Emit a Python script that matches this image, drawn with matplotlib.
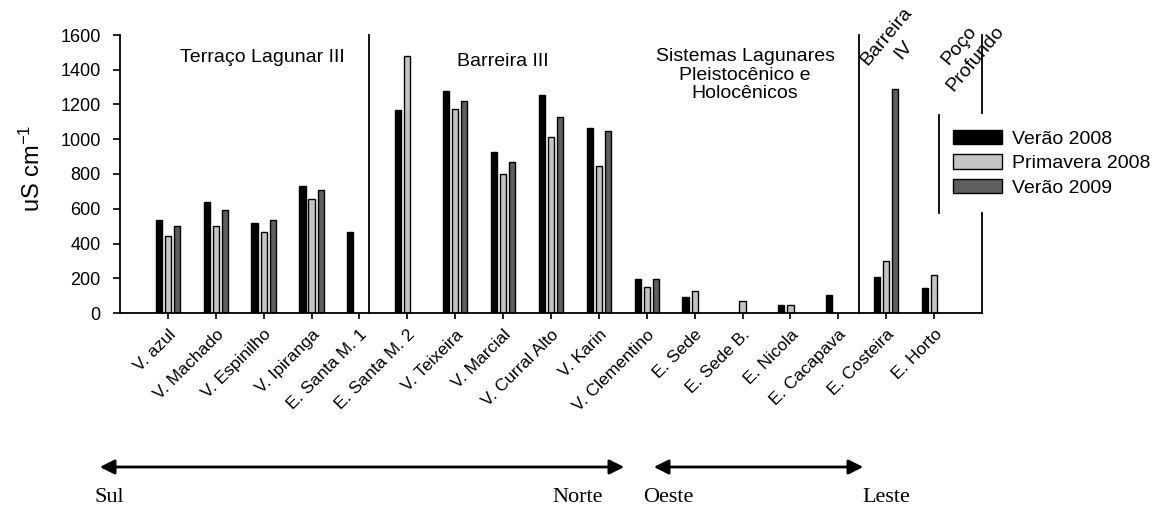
import matplotlib
matplotlib.use("Agg")
import matplotlib.pyplot as plt
import numpy as np

plt.rcParams["font.family"] = ["Liberation Sans", "DejaVu Sans"]
plt.rcParams["mathtext.default"] = "regular"

W, H = 1166, 509

sites = [
    "V. azul", "V. Machado", "V. Espinilho", "V. Ipiranga", "E. Santa M. 1",
    "E. Santa M. 2", "V. Teixeira", "V. Marcial", "V. Curral Alto", "V. Karin",
    "V. Clementino", "E. Sede", "E. Sede B.", "E. Nicola", "E. Cacapava",
    "E. Costeira", "E. Horto",
]
nan = np.nan
verao_2008 = [533, 638, 519, 729, 469, 1167, 1279, 927, 1254, 1067,
              196, 92, nan, 48, 106, 207, 144]
primavera_2008 = [446, 498, 465, 658, nan, 1479, 1173, 802, 1013, 846,
                  150, 129, 67, 44, nan, 302, 219]
verao_2009 = [500, 590, 533, 706, nan, nan, 1221, 869, 1129, 1046,
              196, nan, nan, nan, nan, 1292, nan]

series = [
    ("Verão 2008", verao_2008, "#000000"),
    ("Primavera 2008", primavera_2008, "#c4c4c4"),
    ("Verão 2009", verao_2009, "#5e5e5e"),
]

fig = plt.figure(figsize=(W / 100, H / 100), dpi=100)
ax = fig.add_axes([120 / W, 196 / H, 862 / W, 278 / H])

x = np.arange(len(sites))
width = 0.13
offsets = [-0.19, 0.0, 0.19]
for (label, vals, color), off in zip(series, offsets):
    ax.bar(x + off, vals, width, color=color, edgecolor="black", linewidth=1, label=label)

ax.set_xlim(-1, 17)
ax.set_ylim(0, 1600)
ax.set_yticks(np.arange(0, 1601, 200))
ax.set_xticks(x)
ax.set_xticklabels(sites, rotation=45, ha="right", va="top", rotation_mode="anchor")
ax.tick_params(axis="y", direction="out", length=5, width=1.2, pad=9, labelsize=13)
ax.tick_params(axis="x", direction="out", length=4, width=1.2, pad=6, labelsize=12.5)
for side in ["top", "right"]:
    ax.spines[side].set_visible(False)
for side in ["left", "bottom"]:
    ax.spines[side].set_linewidth(1.3)

# section separators
ax.plot([4.19, 4.19], [0, 1600], color="black", lw=1.3, clip_on=False)
ax.plot([14.43, 14.43], [0, 1600], color="black", lw=1.3, clip_on=False)
ax.plot([17, 17], [0, 575], color="black", lw=1.3, clip_on=False)
ax.plot([17, 17], [1151, 1600], color="black", lw=1.3, clip_on=False)
ax.plot([16.1, 16.1], [575, 1140], color="black", lw=1.3, clip_on=False)

# section labels
fig.text(262 / W, 1 - 57 / H, "Terraço Lagunar III", ha="center", va="center", fontsize=14)
fig.text(503 / W, 1 - 62 / H, "Barreira III", ha="center", va="center", fontsize=14)
fig.text(745 / W, 1 - 75 / H, "Sistemas Lagunares\nPleistocênico e\nHolocênicos",
         ha="center", va="center", fontsize=14, linespacing=1.15)
fig.text(895 / W, 1 - 43 / H, "Barreira\nIV", ha="center", va="center", fontsize=14,
         rotation=50, rotation_mode="anchor", linespacing=1.35)
fig.text(967 / W, 1 - 52 / H, "Poço\nProfundo", ha="center", va="center", fontsize=14,
         rotation=50, rotation_mode="anchor", linespacing=1.3)

fig.text(32 / W, 1 - 168 / H, "uS cm$^{-1}$", rotation=90, ha="center", va="center", fontsize=17)

ax.legend(loc="upper left", bbox_to_anchor=(953 / W, 1 - 130 / H),
          bbox_transform=fig.transFigure, frameon=False, fontsize=14,
          handlelength=2.5, handleheight=0.75, handletextpad=0.55,
          labelspacing=0.33, borderpad=0, borderaxespad=0)

# direction arrows
arrow = dict(arrowstyle="<|-|>", color="black", lw=2, mutation_scale=22)
ax.annotate("", xy=(627 / W, 1 - 467 / H), xytext=(97 / W, 1 - 467 / H),
            xycoords="figure fraction", arrowprops=arrow, annotation_clip=False)
ax.annotate("", xy=(866 / W, 1 - 467 / H), xytext=(651 / W, 1 - 467 / H),
            xycoords="figure fraction", arrowprops=arrow, annotation_clip=False)
serif = ["Liberation Serif", "DejaVu Serif"]
for txt, px in [("Sul", 95), ("Norte", 552), ("Oeste", 643), ("Leste", 862)]:
    fig.text(px / W, 1 - 497 / H, txt, ha="left", va="center", fontsize=16, family=serif)

fig.savefig("out.png", dpi=100)
